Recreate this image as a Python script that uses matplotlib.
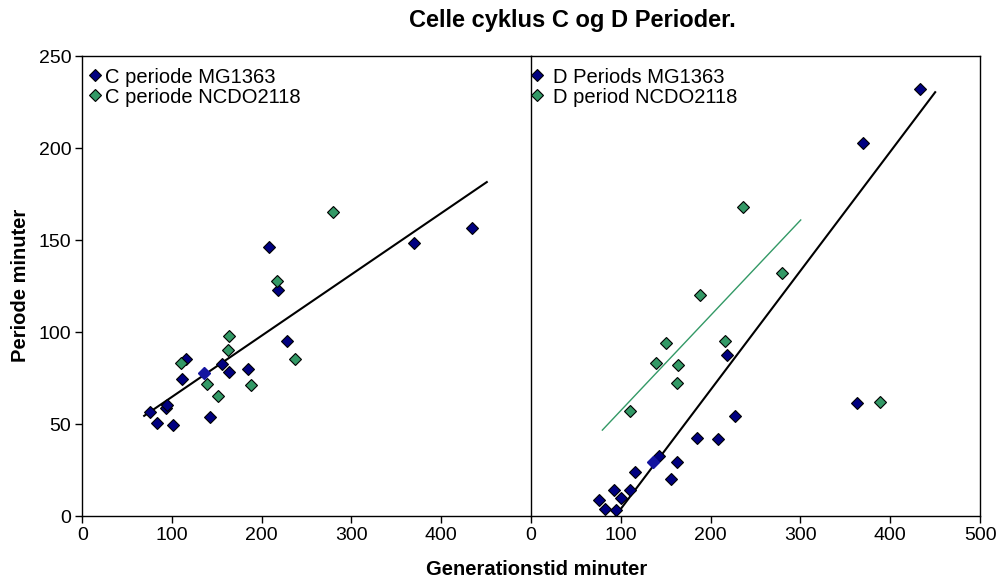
import matplotlib
matplotlib.use("Agg")
import matplotlib.pyplot as plt
import numpy as np

plt.rcParams['font.family'] = ['Liberation Sans', 'DejaVu Sans']

# ---- Data: C periods (left panel) ----
c_mg_x = [75.5, 82.9, 93.3, 94.5, 100.7, 110.8, 115.6, 142.8, 156.1, 163.6, 185.1, 208.6, 218.6, 227.9, 370.3, 434.2]
c_mg_y = [56.7, 50.7, 58.5, 60.3, 49.5, 74.5, 85.3, 54.0, 82.6, 78.3, 79.7, 146.4, 123.0, 95.1, 148.2, 156.3]
c_nc_x = [110.0, 139.0, 150.9, 162.8, 163.9, 187.7, 216.7, 237.2, 279.9]
c_nc_y = [83.0, 71.9, 65.0, 90.2, 98.0, 71.0, 128.0, 85.1, 165.0]
c_hi_x = [135.7]
c_hi_y = [77.5]
c_trend_slope, c_trend_icpt, c_trend_range = 0.3326, 31.5, (69, 451)

# ---- Data: D periods (right panel) ----
d_mg_x = [75.7, 82.4, 92.4, 94.3, 100.6, 110.6, 115.8, 142.9, 155.5, 163.0, 184.9, 208.6, 218.6, 227.5, 362.7, 369.7, 433.6]
d_mg_y = [8.7, 3.8, 14.1, 3.3, 10.0, 14.1, 23.7, 32.8, 20.3, 29.2, 42.6, 41.8, 87.5, 54.5, 61.2, 202.9, 232.2]
d_nc_x = [109.9, 138.8, 150.7, 163.0, 164.1, 187.8, 216.4, 236.4, 279.5, 389.0]
d_nc_y = [57.1, 83.2, 94.2, 72.1, 82.1, 120.1, 95.1, 168.1, 132.2, 62.0]
d_hi_x = [135.5]
d_hi_y = [29.2]
d_mg_trend_slope, d_mg_trend_icpt, d_mg_trend_range = 0.647, -60.8, (94.5, 450)
d_nc_trend_slope, d_nc_trend_icpt, d_nc_trend_range = 0.517, 5.65, (79.4, 300.3)

c_labels = ["C periode MG1363", "C periode NCDO2118"]
d_labels = ["D Periods MG1363", "D period NCDO2118"]
title = "Celle cyklus C og D Perioder."
xlabel = "Generationstid minuter"
ylabel = "Periode minuter"
yticks = [0, 50, 100, 150, 200, 250]

NAVY = '#000080'
GREEN = '#339966'
HI = '#1515A0'

fig = plt.figure(figsize=(10.01, 5.88), dpi=100)
axL = fig.add_axes([0.0822, 0.1224, 0.448, 0.7823])
axR = fig.add_axes([0.5305, 0.1224, 0.4486, 0.7823])

ms = 5.8
mk = dict(marker='D', linestyle='none', markersize=ms, markeredgecolor='black', markeredgewidth=0.8)

def line(ax, slope, icpt, rng, color, lw):
    xs = np.array(rng)
    ax.plot(xs, slope * xs + icpt, color=color, lw=lw, zorder=2)

# Left
line(axL, c_trend_slope, c_trend_icpt, c_trend_range, 'black', 1.5)
axL.plot(c_mg_x, c_mg_y, color=NAVY, label=c_labels[0], zorder=3, **mk)
axL.plot(c_nc_x, c_nc_y, color=GREEN, label=c_labels[1], zorder=3, **mk)
axL.plot(c_hi_x, c_hi_y, marker='D', linestyle='none', markersize=ms + 0.6, color=HI,
         markeredgecolor=HI, zorder=4)

# Right
line(axR, d_mg_trend_slope, d_mg_trend_icpt, d_mg_trend_range, 'black', 1.5)
line(axR, d_nc_trend_slope, d_nc_trend_icpt, d_nc_trend_range, GREEN, 1.0)
axR.plot(d_mg_x, d_mg_y, color=NAVY, label=d_labels[0], zorder=3, **mk)
axR.plot(d_nc_x, d_nc_y, color=GREEN, label=d_labels[1], zorder=3, **mk)
axR.plot(d_hi_x, d_hi_y, marker='D', linestyle='none', markersize=ms + 0.6, color=HI,
         markeredgecolor=HI, zorder=4)

FS_TICK = 14
FS_LEG = 14.5

for ax in (axL, axR):
    ax.set_xlim(0, 500)
    ax.set_ylim(0, 250)
    for s in ax.spines.values():
        s.set_linewidth(1.0)
        s.set_color('black')
    ax.tick_params(direction='out', length=5, width=1, labelsize=FS_TICK, colors='black', pad=3)

axL.legend(loc='upper left', bbox_to_anchor=(0.0178, 0.975), frameon=False, fontsize=FS_LEG,
           handlelength=0.5, handletextpad=0.25, borderaxespad=0, borderpad=0,
           labelspacing=0.05)
axR.legend(loc='upper left', bbox_to_anchor=(0.001, 0.975), frameon=False, fontsize=FS_LEG,
           handlelength=0.5, handletextpad=0.58, borderaxespad=0, borderpad=0,
           labelspacing=0.05)

axL.set_xticks([0, 100, 200, 300, 400])
axL.set_yticks(yticks)
axR.set_xticks([0, 100, 200, 300, 400, 500])
axR.set_yticks(yticks)
axR.tick_params(axis='y', labelleft=False, length=0)
axL.spines['right'].set_visible(False)

fig.text(0.572, 0.954, title, ha='center', va='baseline', fontsize=17, fontweight='bold')
fig.text(0.536, 0.0221, xlabel, ha='center', va='baseline', fontsize=14.5, fontweight='bold')
fig.text(0.026, 0.515, ylabel, ha='center', va='baseline', rotation=90, rotation_mode='anchor',
         fontsize=14.5, fontweight='bold')

fig.savefig('out.png', dpi=100)
